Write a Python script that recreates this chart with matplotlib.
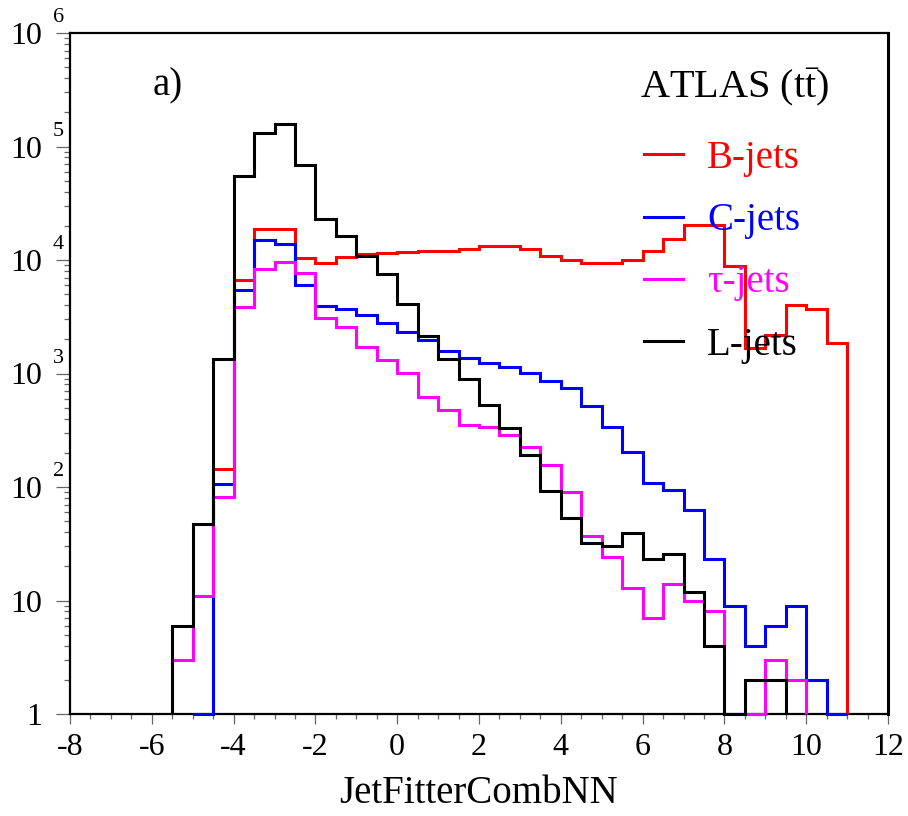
import numpy as np
import matplotlib
matplotlib.use("Agg")
import matplotlib.pyplot as plt
import matplotlib.transforms as mtransforms
from matplotlib.lines import Line2D
from matplotlib.ticker import MultipleLocator, FixedLocator, LogLocator, NullFormatter

# bins of 0.5 from -5.5 to 11
bin_edges = np.arange(-5.5, 11.01, 0.5)

b_jets = [0, 0, 144, 6670, 18600, 18600, 10350, 9460, 10700, 11300, 11600, 11800,
          12000, 12100, 12600, 13400, 13400, 12500, 10800, 10100, 9330, 9330, 10000,
          12000, 15200, 20300, 20300, 8850, 1670, 2180, 4010, 3680, 1845]
c_jets = [0, 1, 107, 5440, 15000, 13800, 6030, 3950, 3670, 3270, 2760, 2340, 1970,
          1580, 1360, 1245, 1148, 1015, 865, 740, 517, 339, 202, 108, 94, 63, 23, 9,
          4, 6, 9, 2, 1]
tau_jets = [3, 11, 81, 3880, 8280, 9660, 7750, 3060, 2550, 1700, 1320, 1015, 617,
            477, 352, 339, 287, 226, 156, 91, 37, 24, 13, 7, 14, 10, 8, 0, 0, 3, 2, 0, 0]
l_jets = [6, 47, 1340, 55000, 132000, 157000, 68700, 22900, 16400, 10800, 7600, 4100,
          2140, 1350, 890, 525, 333, 191, 92, 53, 32, 30, 39, 23, 25.5, 12, 4, 0, 2, 2,
          0, 0, 0]

labels = ["B-jets", "C-jets", "\u03c4-jets", "L-jets"]
colors = ["#ff0000", "#0000ff", "#ff00ff", "#000000"]

plt.rcParams["font.family"] = ["Liberation Serif", "DejaVu Serif"]
plt.rcParams["mathtext.fontset"] = "custom"
plt.rcParams["mathtext.rm"] = "Liberation Serif"
plt.rcParams["mathtext.it"] = "Liberation Serif:italic"
plt.rcParams["axes.unicode_minus"] = False


def trimmed(vals):
    v = np.array(vals, dtype=float)
    nz = np.nonzero(v)[0]
    lo, hi = nz[0], nz[-1] + 1
    return np.maximum(v[lo:hi], 1), bin_edges[lo:hi + 1]


fig = plt.figure(figsize=(9.08, 8.16), dpi=100)
ax = fig.add_axes([70 / 908, 102 / 816, 818 / 908, 681 / 816])

for vals, col in zip([b_jets, c_jets, tau_jets, l_jets], colors):
    h, e = trimmed(vals)
    ax.stairs(h, e, baseline=1, color=col, lw=2.2, clip_on=False, zorder=3)

ax.set_yscale("log")
ax.set_xlim(-8, 12)
ax.set_ylim(1, 1e6)

ax.xaxis.set_major_locator(MultipleLocator(2))
ax.xaxis.set_minor_locator(MultipleLocator(0.5))
ax.yaxis.set_major_locator(FixedLocator([10.0 ** k for k in range(7)]))
ax.yaxis.set_minor_locator(LogLocator(base=10, subs=np.arange(2, 10)))
ax.yaxis.set_minor_formatter(NullFormatter())
ax.set_yticklabels(["1", "10"] + ["10"] * 5)

ax.tick_params(axis="both", which="both", direction="out", color="#666666", width=0.9,
               labelsize=23, top=False, right=False)
ax.tick_params(axis="y", which="major", length=10, pad=10)
ax.tick_params(axis="y", which="minor", length=4.5)
ax.tick_params(axis="x", which="major", length=7, pad=7)
ax.tick_params(axis="x", which="minor", length=3.5)

# exponents of the decade labels
trans = mtransforms.blended_transform_factory(ax.transAxes, ax.transData)
for k in range(2, 7):
    ax.text(-0.021, 10.0 ** k * 1.12, str(k), transform=trans, fontsize=16,
            ha="left", va="bottom")

for side in ["left", "bottom", "top"]:
    ax.spines[side].set_linewidth(1.6)
ax.spines["right"].set_linewidth(2.2)

ax.set_xlabel("JetFitterCombNN", fontsize=28, labelpad=9)

ax.text(0.101, 0.909, "a)", transform=ax.transAxes, fontsize=28, va="baseline")
ax.text(0.697, 0.906, r"ATLAS (t$\bar{\mathrm{t}}$)", transform=ax.transAxes,
        fontsize=29, va="baseline")

handles = [Line2D([], [], color=c, lw=2.2) for c in colors]
ax.legend(handles, labels, loc="upper left", bbox_to_anchor=(0.702, 0.843),
          frameon=False, fontsize=28, handlelength=1.0, handletextpad=0.62,
          labelspacing=0.65, borderpad=0, borderaxespad=0, labelcolor="linecolor")

fig.savefig("out.png", dpi=100)
